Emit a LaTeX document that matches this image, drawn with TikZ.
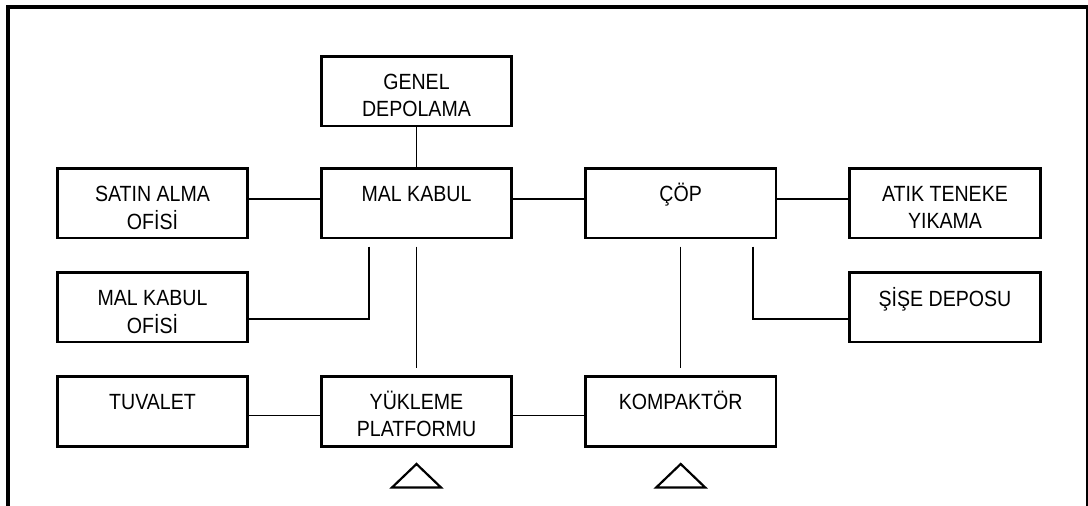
\documentclass[tikz,border=0pt]{standalone}
\usepackage{fontspec}
\setmainfont{Liberation Sans}
\newfontfamily\roomfont[FakeStretch=0.89]{Liberation Sans}
\tikzset{
  x=1pt,y=-1pt,
  roombox/.style={draw=black,line width=2.7pt,fill=white,minimum width=190.5pt,minimum height=69.8pt,inner sep=0pt,outer sep=0pt},
  roomtext/.style={inner sep=0pt,align=center,font=\roomfont\fontsize{22}{26.6}\selectfont},
  link/.style={draw=black,line width=1.5pt},
  frameline/.style={draw=black,line width=3.8pt},
  frameside/.style={draw=black,line width=2.4pt},
  platform/.style={draw=black,line width=2.2pt,line join=miter}
}
\newcommand{\room}[4]{%
  \node[roombox] (#1) at (#2,#3) {};
  \node[roomtext,anchor=north] (#1t) at (#2,{#3-20.3}) {\strut #4};
}
\begin{document}
\begin{tikzpicture}
\useasboundingbox (0,0) rectangle (1088,506);
\fill[white] (0,0) rectangle (1088,506);
\coordinate (fa) at (8.2,506);
\coordinate (fb) at (8.2,7);
\coordinate (fc) at (1088,7);
\coordinate (fd) at (1087.5,7);
\coordinate (fe) at (1087.5,506);
\draw[frameline] (fa) -- (fb) -- (fc);
\draw[frameside] (fd) -- (fe);
\room{genel}{416.5}{91.1}{GENEL\\DEPOLAMA}
\room{satin}{152.5}{203.2}{SATIN ALMA\\OFİSİ}
\room{malkabul}{416.5}{203.2}{MAL KABUL}
\room{cop}{680.7}{203.2}{ÇÖP}
\room{atik}{945}{203.2}{ATIK TENEKE\\YIKAMA}
\room{ofis}{152.5}{307.2}{MAL KABUL\\OFİSİ}
\room{sise}{945}{307.2}{ŞİŞE DEPOSU}
\room{tuvalet}{152.5}{411.3}{TUVALET}
\room{yukleme}{416.5}{411.3}{YÜKLEME\\PLATFORMU}
\room{kompaktor}{680.7}{411.3}{KOMPAKTÖR}
\coordinate (r1) at (0,199);
\coordinate (r4) at (0,415.3);
\coordinate (a1) at (416.5,246.7);
\coordinate (a2) at (416.5,368);
\coordinate (b1) at (368.9,246.7);
\coordinate (b2) at (368.9,319);
\coordinate (c1) at (680.5,246.7);
\coordinate (c2) at (680.5,368);
\coordinate (d1) at (752.9,246.7);
\coordinate (d2) at (752.9,319);
\draw[link] (genel.south) -- (malkabul.north);
\draw[link] (satin.east |- r1) -- (malkabul.west |- r1);
\draw[link] (malkabul.east |- r1) -- (cop.west |- r1);
\draw[link] (cop.east |- r1) -- (atik.west |- r1);
\draw[link] (tuvalet.east |- r4) -- (yukleme.west |- r4);
\draw[link] (yukleme.east |- r4) -- (kompaktor.west |- r4);
\draw[link] (a1) -- (a2);
\draw[link] (c1) -- (c2);
\draw[link] (b1) -- (b2) -- (b2 -| ofis.east);
\draw[link] (d1) -- (d2) -- (d2 -| sise.west);
\coordinate (t1) at (416.5,464);
\coordinate (t2) at (680.7,464);
\draw[platform] (t1) -- ++(-24.5,23.5) -- ++(49,0) -- cycle;
\draw[platform] (t2) -- ++(-24.5,23.5) -- ++(49,0) -- cycle;
\end{tikzpicture}
\end{document}
